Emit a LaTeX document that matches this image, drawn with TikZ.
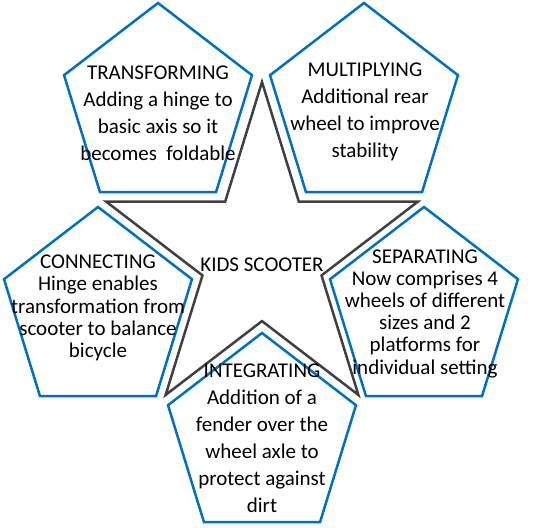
\documentclass[tikz,border=0pt]{standalone}
\usepackage{fontspec}
\setmainfont{Carlito}
\usepackage{tikz}

\definecolor{pentblue}{RGB}{0,112,192}
\definecolor{stargray}{RGB}{64,64,64}

\begin{document}
\begin{tikzpicture}[
		x=1pt, y=1pt,
		pentagon/.style={draw=pentblue, line width=2.5pt, fill=white},
		starline/.style={draw=stargray, line width=2.5pt},
		textblock/.style={align=center, inner sep=0pt, font=\fontsize{21}{27}\selectfont},
		tight/.style={font=\fontsize{21}{22.2}\selectfont}
		]
		\useasboundingbox (0,0) rectangle (551,527);
		
		% Star in the middle
		\begin{scope}[shift={(262,272)}]
		\draw[starline] (90:164 and 173) -- (126:62.6 and 66.1) -- (162:164 and 173) -- (198:62.6 and 66.1) -- (234:164 and 173) -- (270:62.6 and 66.1) -- (306:164 and 173) -- (342:62.6 and 66.1) -- (18:164 and 173) -- (54:62.6 and 66.1) -- cycle;
		\end{scope}
		
		% Pentagons at the points of the star
		\foreach \x/\y in {158/419.5, 364/419.5, 98/215.5, 424/215.5, 262/89.5}
		\draw[pentagon, shift={(\x,\y)}] (90:98.8 and 104.5) -- (162:98.8 and 104.5) -- (234:98.8 and 104.5) -- (306:98.8 and 104.5) -- (18:98.8 and 104.5) -- cycle;
		
		% Texts
		\node[textblock] (kids) at (262,262) {KIDS SCOOTER};
		\node[textblock] (transforming) at (158,413.5) {TRANSFORMING\\Adding a hinge to\\basic axis so it\\becomes~ foldable};
		\node[textblock] (multiplying) at (365,415.5) {MULTIPLYING\\Additional rear\\wheel to improve\\stability};
		\node[textblock, tight] (connecting) at (98,219) {CONNECTING\\Hinge enables\\transformation from\\scooter to balance\\bicycle};
		\node[textblock, tight] (separating) at (425,213.5) {SEPARATING\\Now comprises 4\\wheels of different\\sizes and 2\\platforms for\\individual setting};
		\node[textblock] (integrating) at (262,89) {INTEGRATING\\Addition of a\\fender over the\\wheel axle to\\protect against\\dirt};
		
	\end{tikzpicture}
\end{document}
